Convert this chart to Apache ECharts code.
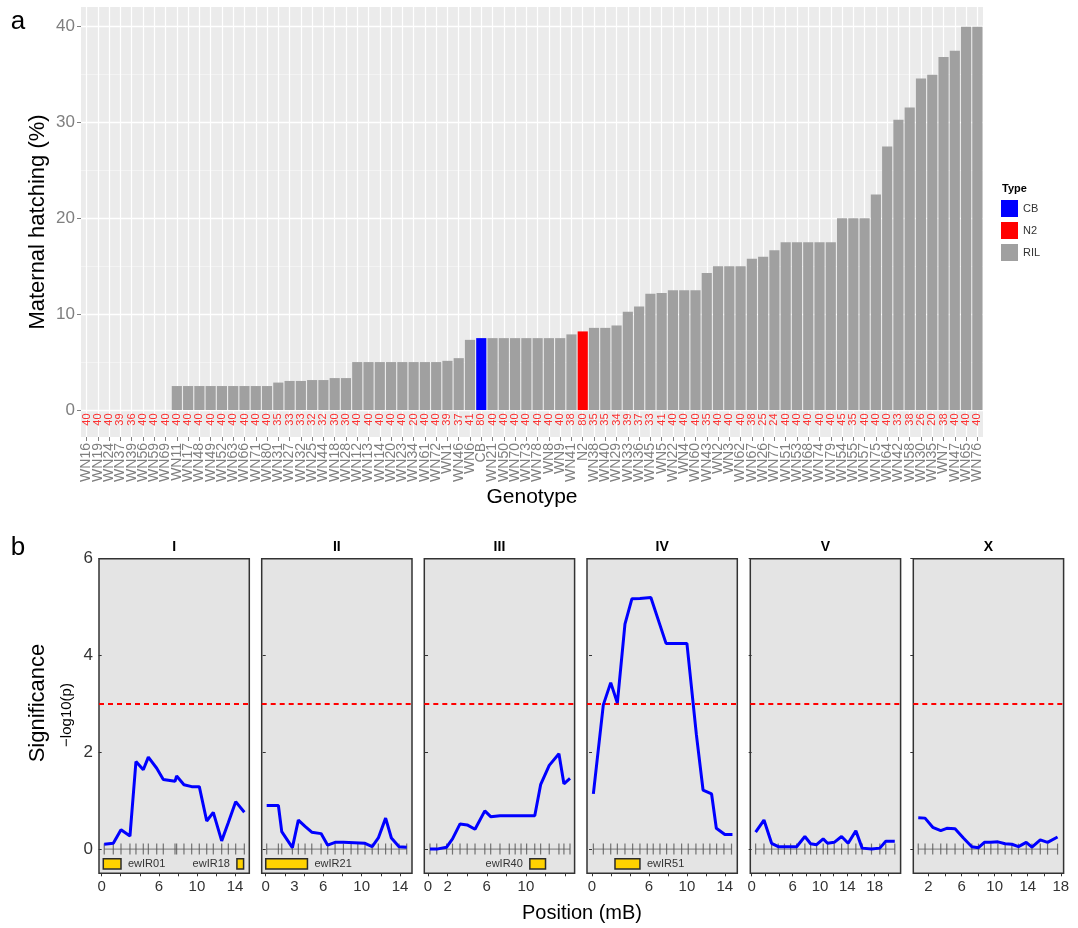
<!DOCTYPE html>
<html>
<head>
<meta charset="utf-8">
<script src="https://cdn.jsdelivr.net/npm/echarts@6/dist/echarts.min.js"></script>
<style>html,body{margin:0;padding:0;background:#fff}#c{width:1078px;height:928px}</style>
</head>
<body>
<div id="c"></div>
<script>
// ---------- Panel a data ----------
const genotypes = ['WN16','WN19','WN24','WN37','WN39','WN56','WN59','WN69','WN11','WN17','WN48','WN49','WN52','WN63','WN66','WN71','WN80','WN31','WN27','WN32',
  'WN25','WN44','WN18','WN28','WN12','WN13','WN14','WN20','WN23','WN34','WN61','WN72','WN1','WN46','WN6','CB','WN21','WN50','WN70','WN73',
  'WN78','WN8','WN9','WN41','N2','WN38','WN40','WN29','WN33','WN36','WN45','WN5','WN22','WN4','WN60','WN43','WN2','WN3','WN62','WN67',
  'WN26','WN77','WN51','WN53','WN68','WN74','WN79','WN54','WN55','WN57','WN75','WN64','WN42','WN58','WN30','WN35','WN7','WN47','WN65','WN76'];
const hatching = [0,0,0,0,0,0,0,0,2.5,2.5,2.5,2.5,2.5,2.5,2.5,2.5,2.5,2.86,3.03,3.03,
  3.125,3.125,3.33,3.33,5,5,5,5,5,5,5,5,5.13,5.41,7.32,7.5,7.5,7.5,7.5,7.5,
  7.5,7.5,7.5,7.89,8.2,8.57,8.57,8.82,10.26,10.81,12.12,12.2,12.5,12.5,12.5,14.29,15,15,15,15.79,
  16,16.67,17.5,17.5,17.5,17.5,17.5,20,20,20,22.5,27.5,30.3,31.58,34.6,35,36.84,37.5,40,40];
const sampleSizes = [40,40,40,39,36,40,40,40,40,40,40,40,40,40,40,40,40,35,33,33,
  32,32,30,30,40,40,40,40,40,20,40,40,39,37,41,80,40,40,40,40,
  40,40,40,38,80,35,35,34,39,37,33,41,40,40,40,35,40,40,40,38,
  25,24,40,40,40,40,40,45,35,40,40,40,33,38,26,20,38,40,40,40];
const typeNames = ['CB','N2','RIL'];
const typeColors = {CB:'#0000ff', N2:'#ff0000', RIL:'#a0a0a0'};
const types = genotypes.map(g => (g === 'CB' || g === 'N2') ? g : 'RIL');
const yTicksA = [0,10,20,30,40];
const yMinorA = [5,15,25,35];

// ---------- Panel b data ----------
const chromNames = ['I','II','III','IV','V','X'];
const posI = [0.27,1.22,2.03,2.97,3.6,4.37,4.9,5.78,6.47,7.7,7.87,8.64,9.45,10.25,11.03,11.72,12.6,13.3,14.07,14.98];
const sigI = [0.10,0.12,0.40,0.27,1.81,1.64,1.90,1.67,1.44,1.40,1.51,1.33,1.29,1.29,0.58,0.76,0.17,0.55,0.98,0.76];
const posII = [0.1,1.32,1.67,2.78,3.4,4.1,4.8,5.77,6.46,7.23,8.1,10.35,11.1,11.74,12.5,13.1,13.9,14.7];
const sigII = [0.90,0.90,0.36,0.03,0.60,0.47,0.35,0.32,0.08,0.14,0.14,0.12,0.05,0.23,0.64,0.23,0.05,0.04];
const posIII = [0.2,0.89,1.9,2.5,3.27,4.0,4.8,5.8,6.4,7.35,10.07,10.9,11.5,12.38,13.37,13.88,14.5];
const sigIII = [0,0,0.04,0.21,0.52,0.50,0.41,0.79,0.67,0.69,0.69,0.69,1.33,1.73,1.97,1.35,1.46];
const posIV = [0.14,1.19,1.97,2.67,3.47,4.2,5.05,6.2,7.8,10.0,11.0,11.7,12.6,13.1,14.0,14.8];
const sigIV = [1.14,2.98,3.44,3.02,4.65,5.17,5.18,5.2,4.25,4.25,2.36,1.22,1.14,0.43,0.30,0.30];
const posV = [0.58,1.8,2.92,3.89,6.58,7.79,8.63,9.5,10.47,11.11,12.08,13.16,14.12,15.25,16.17,17.54,18.76,19.63,20.95];
const sigV = [0.35,0.60,0.12,0.05,0.05,0.26,0.11,0.09,0.21,0.12,0.14,0.26,0.12,0.38,0.02,0.0,0.02,0.16,0.16];
const posX = [0.76,1.58,2.51,3.48,4.21,5.21,6.22,7.24,8.04,8.76,9.54,10.39,11.27,12.08,12.88,13.82,14.51,15.52,16.4,17.61];
const sigX = [0.65,0.64,0.45,0.38,0.43,0.42,0.23,0.05,0.03,0.14,0.14,0.15,0.11,0.10,0.05,0.14,0.04,0.19,0.14,0.25];

const markersI = [0.27,1.22,2.03,2.97,3.6,4.37,4.9,5.78,6.47,7.7,7.87,8.64,9.45,10.25,11.03,11.72,12.6,13.3,14.07,14.98];
const markersII = [0.1,1.32,1.67,2.78,3.4,4.1,4.8,5.77,6.46,7.23,8.1,8.9,9.6,10.35,11.1,11.74,12.5,13.1,13.9,14.7];
const markersIII = [0.2,0.89,1.9,2.5,3.27,4.0,4.8,5.8,6.4,7.35,8.3,8.9,9.5,10.07,10.9,11.5,12.38,13.37,13.88,14.5];
const markersIV = [0.14,1.19,1.97,2.67,3.47,4.28,5.05,5.82,6.45,7.16,7.86,8.63,9.44,10.14,10.95,11.72,12.42,13.13,13.9,14.7];
const markersV = [0.58,1.8,2.92,3.89,4.8,5.7,6.58,7.79,8.63,9.5,10.47,11.11,12.08,13.16,14.12,15.25,16.17,17.54,18.76,19.63,20.95];
const markersX = [0.76,1.58,2.51,3.48,4.21,5.21,6.22,7.24,8.04,8.76,9.54,10.39,11.27,12.08,12.88,13.82,14.51,15.52,16.4,17.61];

const xMinB = [-0.28,-0.42,-0.38,-0.53,-0.2,0.16];
const xMaxB = [15.5,15.25,14.97,15.31,21.8,18.34];
const xLabelsI = [0,6,10,14];
const xLabelsII = [0,3,6,10,14];
const xLabelsIII = [0,2,6,10];
const xLabelsIV = [0,6,10,14];
const xLabelsV = [0,6,10,14,18];
const xLabelsX = [2,6,10,14,18];
const xTicksI = [0,2,4,6,8,10,12,14];
const xTicksII = [0,2,4,6,8,10,12,14];
const xTicksIII = [0,2,4,6,8,10,12,14];
const xTicksIV = [0,2,4,6,8,10,12,14];
const xTicksV = [0,2,4,6,8,10,12,14,16,18,20];
const xTicksX = [2,4,6,8,10,12,14,16,18];
const yTicksB = [0,2,4,6];
const threshold = 3;

const geneNames = ['ewIR01','ewIR18','ewIR21','ewIR40','ewIR51'];
const geneChrom = ['I','I','II','III','IV'];
const geneStart = [0.17,14.2,0.0,10.4,2.42];
const geneEnd = [2.03,14.9,4.35,12.0,5.05];
const geneLabelSide = ['right','left','right','left','right'];

// ---------- layout ----------
const FONT = 'Liberation Sans, Arial, sans-serif';
const facetLeft = [99,261.7,424.3,587,750.3,913.3];
const facetTop = 558.7, facetW = 150.3, facetH = 314.6;
const GENE_TOP = -0.2, GENE_BOTTOM = -0.41;

const facetPos = [posI,posII,posIII,posIV,posV,posX];
const facetSig = [sigI,sigII,sigIII,sigIV,sigV,sigX];
const facetMarkers = [markersI,markersII,markersIII,markersIV,markersV,markersX];
const facetXLabels = [xLabelsI,xLabelsII,xLabelsIII,xLabelsIV,xLabelsV,xLabelsX];
const facetXTicks = [xTicksI,xTicksII,xTicksIII,xTicksIV,xTicksV,xTicksX];

const grids = [{left:81, top:7, width:902, height:430, show:true, backgroundColor:'#ebebeb', borderWidth:0}];
const xAxes = [{
  gridIndex:0, type:'category', data:genotypes, boundaryGap:true,
  axisLine:{show:false, onZero:false},
  axisTick:{show:true, alignWithLabel:true, length:4, lineStyle:{color:'#7f7f7f'}},
  axisLabel:{interval:0, rotate:90, fontSize:14, color:'#7f7f7f', margin:6, fontFamily:FONT},
  splitLine:{show:false}
}];
const yAxes = [{
  gridIndex:0, type:'value', min:-2.82, max:42.06,
  axisLine:{show:false},
  axisTick:{show:true, length:4, customValues:yTicksA, lineStyle:{color:'#7f7f7f'}},
  axisLabel:{customValues:yTicksA, fontSize:17, color:'#7f7f7f', margin:6, fontFamily:FONT},
  splitLine:{show:false}
}];
const series = [];

// grid lines panel a (drawn beneath the bars)
series.push({
  type:'line', xAxisIndex:0, yAxisIndex:0, data:genotypes.map(()=>'-'), silent:true, z:1,
  markLine:{silent:true, z:1, symbol:'none', animation:false, label:{show:false}, emphasis:{disabled:true},
    data:[].concat(
      yMinorA.map(v=>({yAxis:v, lineStyle:{color:'#f7f7f7', width:0.7, type:'solid'}})),
      yTicksA.map(v=>({yAxis:v, lineStyle:{color:'#ffffff', width:1.4, type:'solid'}})),
      genotypes.map(g=>({xAxis:g, lineStyle:{color:'#ffffff', width:1.2, type:'solid'}}))
    )}
});
typeNames.forEach(t => {
  series.push({
    type:'bar', name:t, xAxisIndex:0, yAxisIndex:0, stack:'h', barCategoryGap:'10%', z:3,
    itemStyle:{color:typeColors[t]},
    data: hatching.map((v,i)=> types[i]===t ? v : '-')
  });
});
series.push({
  type:'scatter', xAxisIndex:0, yAxisIndex:0, symbolSize:1, silent:true, z:4,
  itemStyle:{color:'rgba(0,0,0,0)'},
  data: sampleSizes.map((n,i)=>[i,-1.0,n]),
  label:{show:true, position:'inside', rotate:90, formatter:p=>String(p.value[2]), color:'#ff0000', fontSize:11, fontFamily:FONT}
});

chromNames.forEach((c,f) => {
  const gi = f+1;
  grids.push({left:facetLeft[f], top:facetTop, width:facetW, height:facetH, show:true,
    backgroundColor:'#e4e4e4', borderColor:'#333333', borderWidth:1.5});
  xAxes.push({gridIndex:gi, type:'value', min:xMinB[f], max:xMaxB[f],
    axisLine:{show:false, onZero:false},
    axisTick:{show:true, length:3, customValues:facetXTicks[f], lineStyle:{color:'#333'}},
    axisLabel:{customValues:facetXLabels[f], fontSize:15, color:'#333', margin:6, fontFamily:FONT},
    splitLine:{show:false}});
  yAxes.push({gridIndex:gi, type:'value', min:-0.5, max:6,
    axisLine:{show:false},
    axisTick:{show:true, length:3, customValues:yTicksB, lineStyle:{color:'#333'}},
    axisLabel:{show:f===0, customValues:yTicksB, fontSize:17, color:'#333', margin:6, fontFamily:FONT},
    splitLine:{show:false}});
  const mk = facetMarkers[f];
  series.push({type:'line', xAxisIndex:gi, yAxisIndex:gi, symbol:'none', silent:true, z:3,
    lineStyle:{color:'#777', width:1}, data:[[mk[0],0],[mk[mk.length-1],0]]});
  series.push({type:'scatter', xAxisIndex:gi, yAxisIndex:gi, symbol:'rect', symbolSize:[1.2,11], silent:true, z:4,
    itemStyle:{color:'#555'}, data: mk.map(m=>[m,0])});
  const gd = [];
  geneNames.forEach((g,k)=>{ if (geneChrom[k]===c) gd.push([geneStart[k], geneEnd[k], k]); });
  if (gd.length) {
    series.push({type:'custom', xAxisIndex:gi, yAxisIndex:gi, silent:true, z:4,
      dimensions:['start','end','k'], encode:{x:[0,1]}, data:gd,
      renderItem:(params, api) => {
        const k = api.value(2);
        const pA = api.coord([api.value(0), GENE_TOP]);
        const pB = api.coord([api.value(1), GENE_BOTTOM]);
        const right = geneLabelSide[k]==='right';
        return {type:'group', children:[
          {type:'rect', shape:{x:pA[0], y:pA[1], width:pB[0]-pA[0], height:pB[1]-pA[1]},
            style:{fill:'#ffd200', stroke:'#2b2b2b', lineWidth:1.5}},
          {type:'text', style:{text:geneNames[k], x: right ? pB[0]+7 : pA[0]-7, y:(pA[1]+pB[1])/2,
            align: right ? 'left' : 'right', verticalAlign:'middle', fontSize:11, fill:'#333', fontFamily:FONT}}
        ]};
      }});
  }
  series.push({type:'line', xAxisIndex:gi, yAxisIndex:gi, symbol:'none', silent:true, z:5,
    lineStyle:{color:'#0000ff', width:3}, data: facetPos[f].map((x,j)=>[x, facetSig[f][j]]),
    markLine:{silent:true, symbol:'none', animation:false, label:{show:false}, emphasis:{disabled:true},
      lineStyle:{color:'#ff0000', type:[5,4], width:1.8}, data:[{yAxis:threshold}]}});
});

const graphics = [
  {type:'text', x:18, y:22, style:{text:'a', fontSize:26, fill:'#000', align:'center', verticalAlign:'middle', fontFamily:FONT}},
  {type:'text', x:18, y:548, style:{text:'b', fontSize:26, fill:'#000', align:'center', verticalAlign:'middle', fontFamily:FONT}},
  {type:'text', x:38, y:222, rotation:Math.PI/2, style:{text:'Maternal hatching (%)', fontSize:22, fill:'#000', align:'center', verticalAlign:'middle', fontFamily:FONT}},
  {type:'text', x:532, y:497, style:{text:'Genotype', fontSize:21, fill:'#000', align:'center', verticalAlign:'middle', fontFamily:FONT}},
  {type:'text', x:1002, y:189, style:{text:'Type', fontSize:11, fontWeight:'bold', fill:'#000', align:'left', verticalAlign:'middle', fontFamily:FONT}},
  {type:'text', x:38, y:703, rotation:Math.PI/2, style:{text:'Significance', fontSize:22, fill:'#000', align:'center', verticalAlign:'middle', fontFamily:FONT}},
  {type:'text', x:67, y:715, rotation:Math.PI/2, style:{text:'\u2212log10(p)', fontSize:15, fill:'#000', align:'center', verticalAlign:'middle', fontFamily:FONT}},
  {type:'text', x:582, y:913, style:{text:'Position (mB)', fontSize:20, fill:'#000', align:'center', verticalAlign:'middle', fontFamily:FONT}}
];
chromNames.forEach((c,f)=>{
  graphics.push({type:'text', x:facetLeft[f]+facetW/2, y:547, style:{text:c, fontSize:14, fontWeight:'bold', fill:'#000', align:'center', verticalAlign:'middle', fontFamily:FONT}});
});

const chart = echarts.init(document.getElementById('c'), null, {renderer:'canvas'});
chart.setOption({
  animation:false,
  backgroundColor:'#ffffff',
  textStyle:{fontFamily:FONT},
  grid:grids, xAxis:xAxes, yAxis:yAxes, series:series, graphic:graphics,
  legend:{data:typeNames, orient:'vertical', left:996, top:195, itemWidth:17, itemHeight:17, itemGap:5,
    icon:'rect', selectedMode:false, textStyle:{fontSize:11, color:'#333', fontFamily:FONT}}
});
</script>
</body>
</html>
